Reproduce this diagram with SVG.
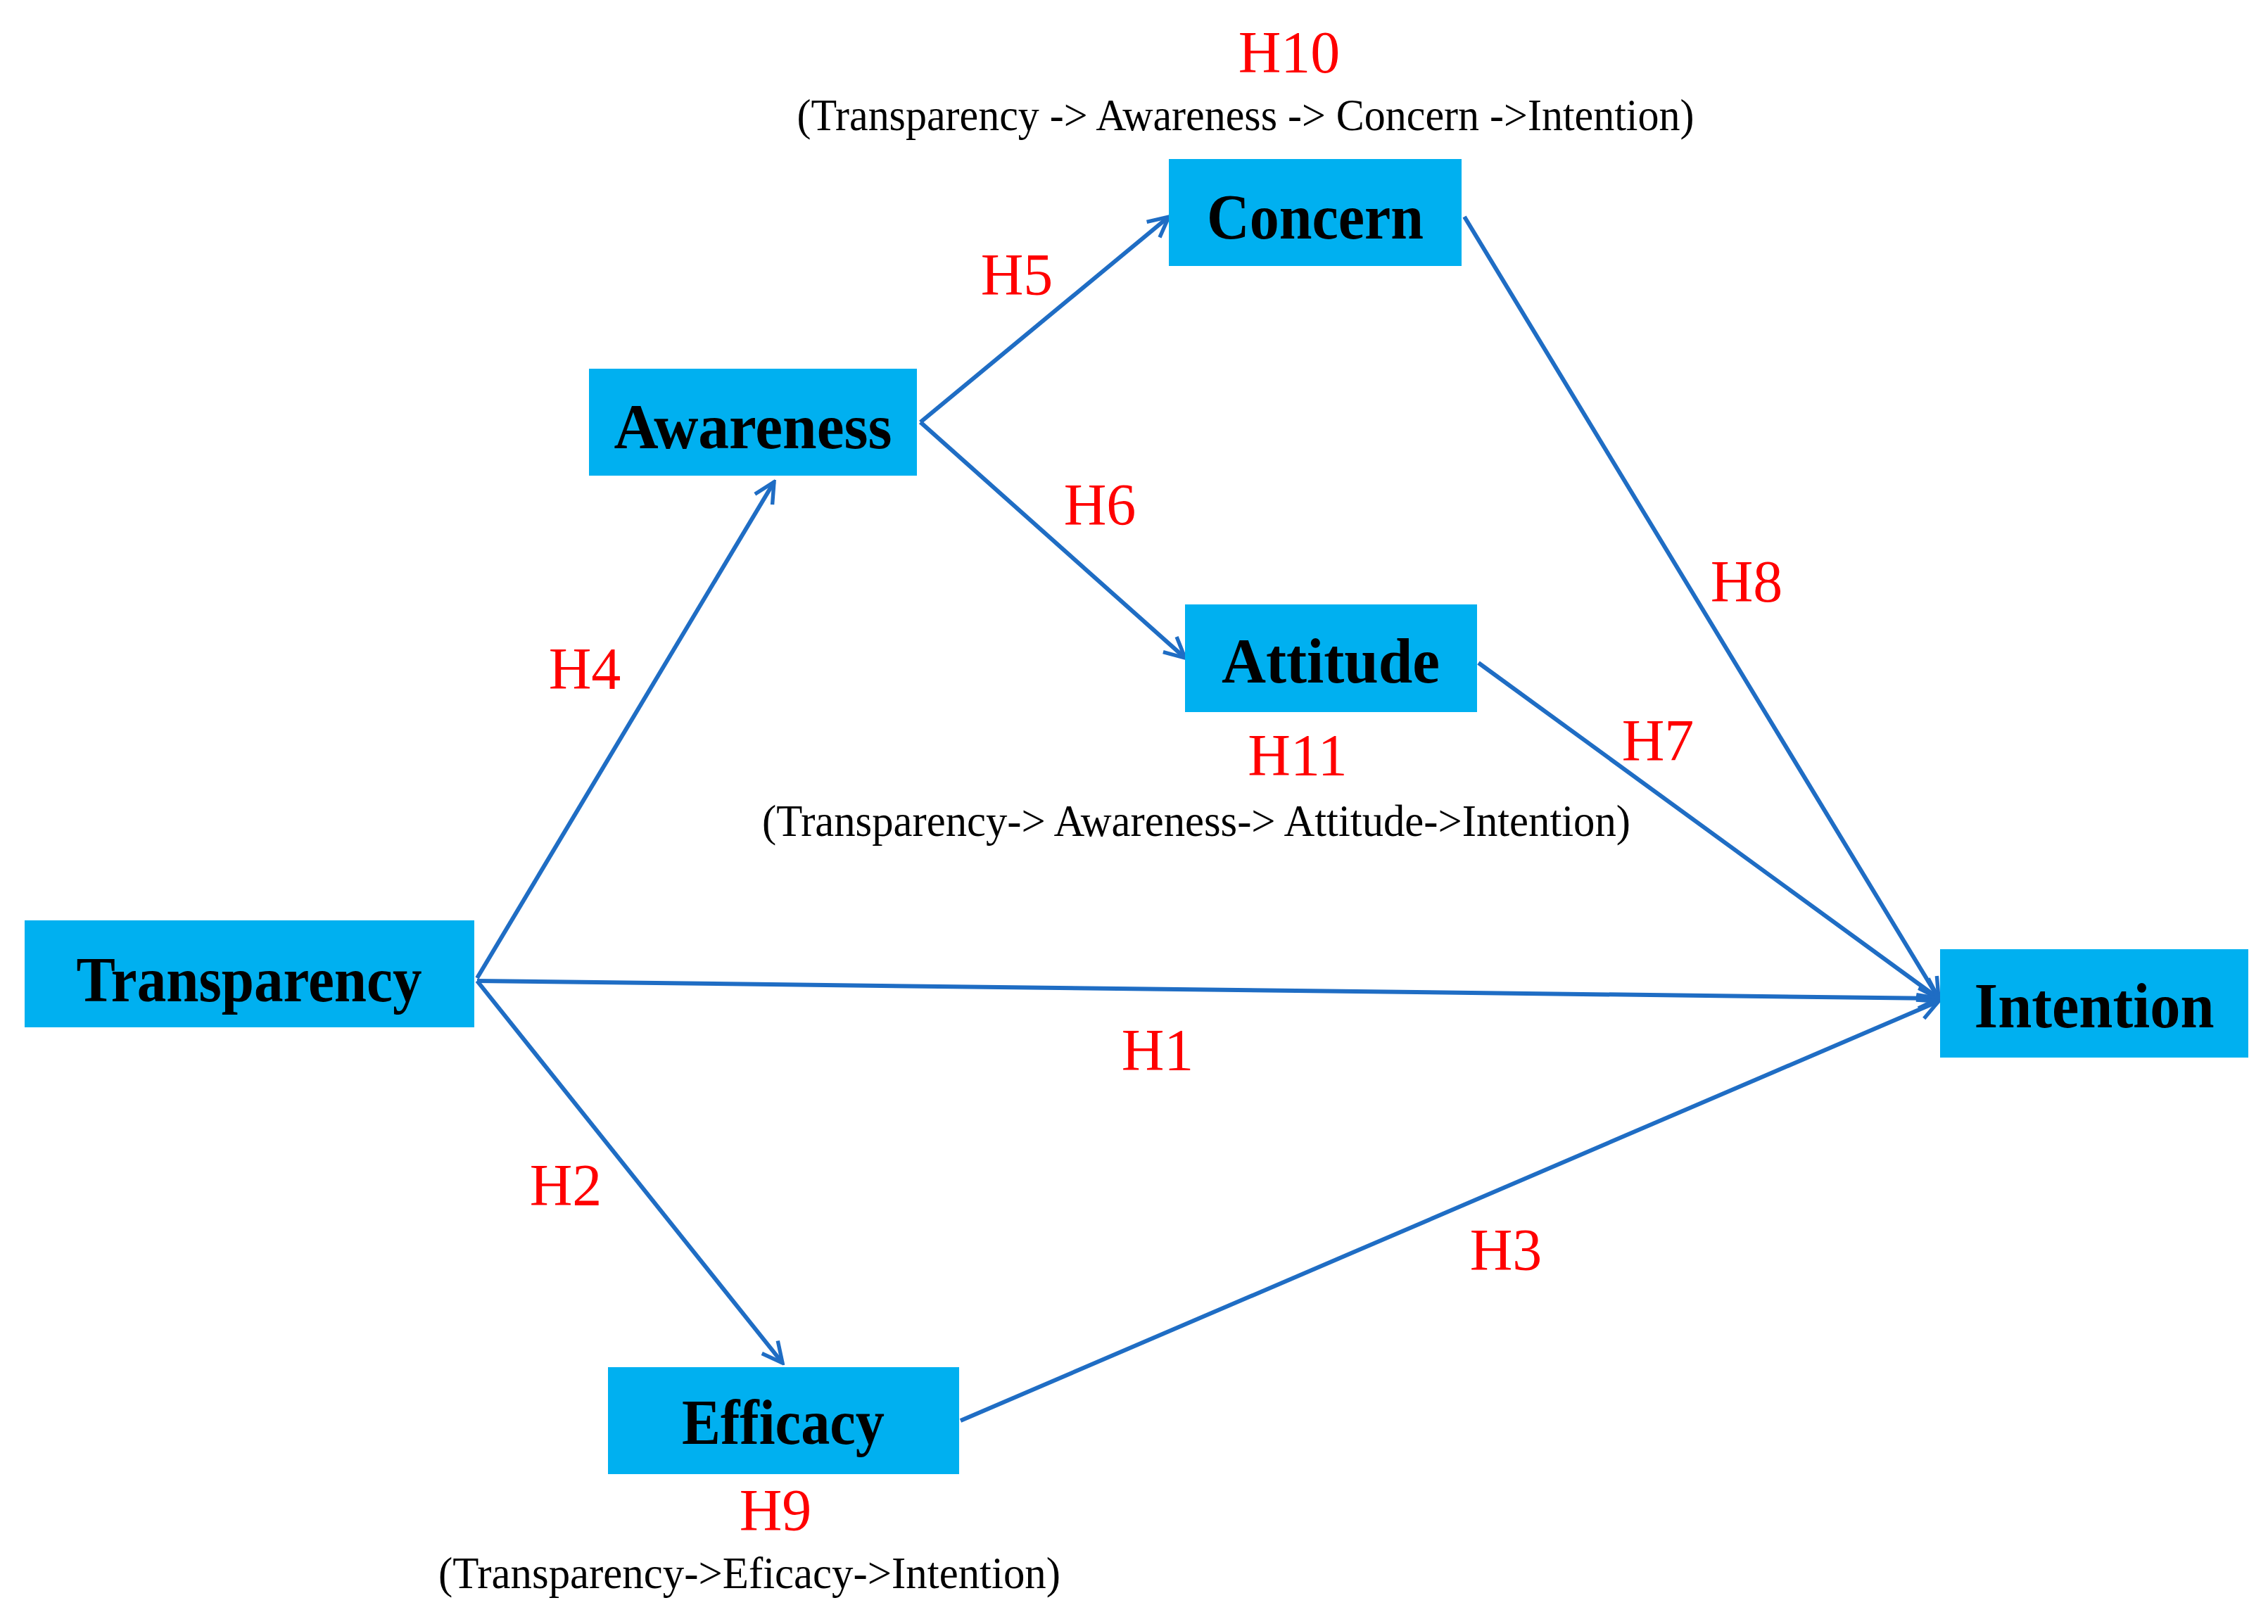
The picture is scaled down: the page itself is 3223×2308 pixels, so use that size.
<svg xmlns="http://www.w3.org/2000/svg" width="3223" height="2308" viewBox="0 0 3223 2308">
<defs>
<marker id="arr" viewBox="0 0 20 20" refX="18" refY="10" markerWidth="6" markerHeight="6" markerUnits="strokeWidth" orient="auto">
<path d="M2,2 L18,10 L2,18" fill="none" stroke="#1f6dc4" stroke-width="3"/>
</marker>
<style>
.box{fill:#00b0f0}
.nt{font-family:"Liberation Serif",serif;font-weight:bold;font-size:92px;fill:#000;text-anchor:middle}
.h{font-family:"Liberation Serif",serif;font-size:84px;fill:#ff0000;text-anchor:middle}
.p{font-family:"Liberation Serif",serif;font-size:64px;fill:#000;text-anchor:middle}
.c{fill:none;stroke:#1f6dc4;stroke-width:6;marker-end:url(#arr)}
</style>
</defs>
<rect width="3223" height="2308" fill="#fff"/>
<g id="connectors">
<line class="c" x1="678" y1="1390" x2="1100" y2="685"/>
<line class="c" x1="678" y1="1394" x2="2755" y2="1419"/>
<line class="c" x1="678" y1="1394" x2="1112" y2="1937"/>
<line class="c" x1="1308" y1="600" x2="1661" y2="308"/>
<line class="c" x1="1308" y1="600" x2="1684" y2="935"/>
<line class="c" x1="2081" y1="308" x2="2755" y2="1419"/>
<line class="c" x1="2101" y1="942" x2="2755" y2="1419"/>
<line class="c" x1="1365" y1="2019" x2="2755" y2="1423"/>
</g>
<g id="transparency"><rect class="box" x="35" y="1308" width="639" height="152"/><text class="nt" x="354" y="1423" textLength="491" lengthAdjust="spacingAndGlyphs">Transparency</text></g>
<g id="awareness"><rect class="box" x="837" y="524" width="466" height="152"/><text class="nt" x="1070" y="637" textLength="395" lengthAdjust="spacingAndGlyphs">Awareness</text></g>
<g id="concern"><rect class="box" x="1661" y="226" width="416" height="152"/><text class="nt" x="1869" y="339" textLength="308" lengthAdjust="spacingAndGlyphs">Concern</text></g>
<g id="attitude"><rect class="box" x="1684" y="859" width="415" height="153"/><text class="nt" x="1891" y="970" textLength="310" lengthAdjust="spacingAndGlyphs">Attitude</text></g>
<g id="intention"><rect class="box" x="2757" y="1349" width="438" height="154"/><text class="nt" x="2976" y="1460" textLength="341" lengthAdjust="spacingAndGlyphs">Intention</text></g>
<g id="efficacy"><rect class="box" x="864" y="1943" width="499" height="152"/><text class="nt" x="1113" y="2052" textLength="288" lengthAdjust="spacingAndGlyphs">Efficacy</text></g>
<g id="labels">
<text class="h" x="1832" y="103">H10</text>
<text class="p" x="1770" y="185" textLength="1275" lengthAdjust="spacingAndGlyphs">(Transparency -&gt; Awareness -&gt; Concern -&gt;Intention)</text>
<text class="h" x="1445" y="419">H5</text>
<text class="h" x="1563" y="746">H6</text>
<text class="h" x="831" y="979">H4</text>
<text class="h" x="2482" y="855">H8</text>
<text class="h" x="2356" y="1081">H7</text>
<text class="h" x="1844" y="1102">H11</text>
<text class="p" x="1700" y="1188" textLength="1234" lengthAdjust="spacingAndGlyphs">(Transparency-&gt; Awareness-&gt; Attitude-&gt;Intention)</text>
<text class="h" x="1645" y="1521">H1</text>
<text class="h" x="804" y="1713">H2</text>
<text class="h" x="2140" y="1805">H3</text>
<text class="h" x="1102" y="2175">H9</text>
<text class="p" x="1065" y="2257" textLength="884" lengthAdjust="spacingAndGlyphs">(Transparency-&gt;Eficacy-&gt;Intention)</text>
</g>
</svg>
